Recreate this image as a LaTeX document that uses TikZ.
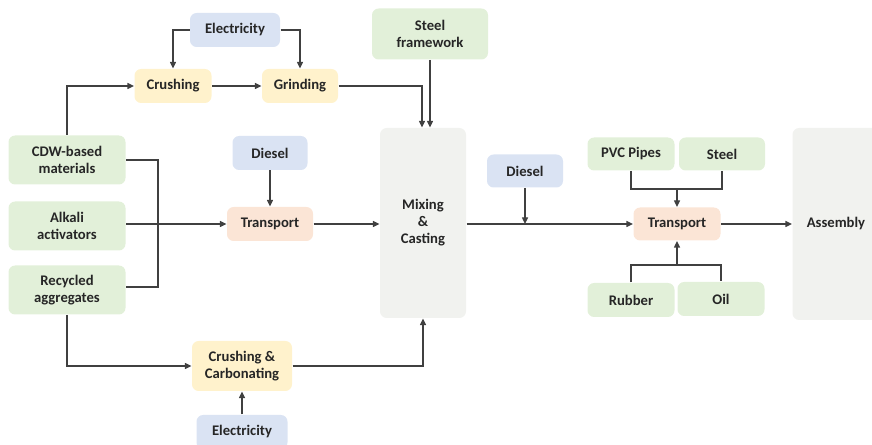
\documentclass[tikz,border=0pt]{standalone}
\usepackage{fontspec}
\setmainfont{Carlito}
\usetikzlibrary{arrows.meta,calc}

\definecolor{grn}{RGB}{226,240,217}
\definecolor{blu}{RGB}{218,227,243}
\definecolor{ylw}{RGB}{255,242,204}
\definecolor{pch}{RGB}{251,229,214}
\definecolor{gry}{RGB}{241,242,239}
\definecolor{txt}{RGB}{38,38,38}
\definecolor{lne}{RGB}{64,64,64}

\tikzset{every picture/.style={line width=0.75pt}}
\tikzset{
  box/.style 2 args={rounded corners=5pt, inner sep=0pt, align=center, text=txt,
    font=\bfseries\fontsize{11}{12.75}\selectfont,
    minimum width=#1*0.75pt, minimum height=#2*0.75pt},
  link/.style={draw=lne, line width=1pt},
  arr/.style={link, -{Triangle[length=5pt,width=4.5pt]}}
}

\begin{document}
\begin{tikzpicture}[x=0.75pt,y=0.75pt,yscale=-1,xscale=1]
\path[use as bounding box, clip] (0,0) rectangle (872,445);

%Shape: boxes, top row
\node[box={90}{34}, fill=blu] (elecTop) at (235,30) {Electricity};
\node[box={77}{34}, fill=ylw] (crush) at (173,86) {Crushing};
\node[box={76}{34}, fill=ylw] (grind) at (300,86) {Grinding};
\node[box={116}{51}, fill=grn] (steelFw) at (430,34) {Steel\\framework};
%Shape: boxes, left column
\node[box={117}{49}, fill=grn] (cdw) at (67,160) {CDW-based\\materials};
\node[box={117}{49}, fill=grn] (alkali) at (67,226) {Alkali\\activators};
\node[box={117}{49}, fill=grn] (recyc) at (67,290) {Recycled\\aggregates};
%Shape: boxes, middle
\node[box={75}{34}, fill=blu] (dieselA) at (270,153) {Diesel};
\node[box={86}{34}, fill=pch] (transA) at (270,224) {Transport};
\node[box={86}{190}, fill=gry] (mix) at (423,223) {Mixing\\\&\\Casting};
\node[box={100}{50}, fill=ylw] (crushCarb) at (242,366) {Crushing \&\\Carbonating};
\node[box={91}{34}, fill=blu] (elecBot) at (242,432) {Electricity};
%Shape: boxes, right
\node[box={76}{33}, fill=blu] (dieselB) at (525,171) {Diesel};
\node[box={87}{33}, fill=pch] (transB) at (677,224) {Transport};
\node[box={87}{33}, fill=grn] (pvc) at (631,154) {PVC Pipes};
\node[box={86}{33}, fill=grn] (steel) at (722,154) {Steel};
\node[box={87}{34}, fill=grn] (rubber) at (631,300) {Rubber};
\node[box={87}{34}, fill=grn] (oil) at (721,299) {Oil};
\node[box={87}{192}, fill=gry] (assembly) at (836,224) {Assembly};

%Coordinates for joins
\coordinate (mixTopL) at ($(mix.north)+(-1,0)$);
\coordinate (mixTopR) at ($(mix.north)+(7,0)$);
\coordinate (topJoin) at ($(transB.north)+(0,-18)$);
\coordinate (botJoin) at ($(transB.south)+(0,24)$);

%Straight Lines
\draw[arr] (elecTop.west) -| (crush.north);
\draw[arr] (elecTop.east) -| (grind.north);
\draw[arr] (crush.east) -- (grind.west);
\draw[arr] (cdw.north) |- (crush.west);
\draw[arr] (grind.east) -| (mixTopL);
\draw[arr] (steelFw.south -| mixTopR) -- (mixTopR);
\draw[link] (cdw.east) -- ++(32,0) |- ($(recyc.east)+(0,-3)$);
\draw[arr] (alkali.east |- transA.west) -- (transA.west);
\draw[arr] (dieselA.south) -- (transA.north);
\draw[arr] (transA.east) -- (mix.west |- transA.east);
\draw[arr] (recyc.south) |- (crushCarb.west);
\draw[arr] (crushCarb.east) -| (mix.south);
\draw[arr] (elecBot.north) -- (crushCarb.south);
\draw[arr] (mix.east |- transB.west) -- (transB.west);
\draw[arr] (dieselB.south) -- (dieselB.south |- transB.west);
\draw[link] (pvc.south) |- (topJoin) -| (steel.south);
\draw[arr] (topJoin) -- (transB.north);
\draw[link] (rubber.north) |- (botJoin) -| (oil.north);
\draw[arr] (botJoin) -- (transB.south);
\draw[arr] (transB.east) -- (assembly.west);

\end{tikzpicture}
\end{document}
